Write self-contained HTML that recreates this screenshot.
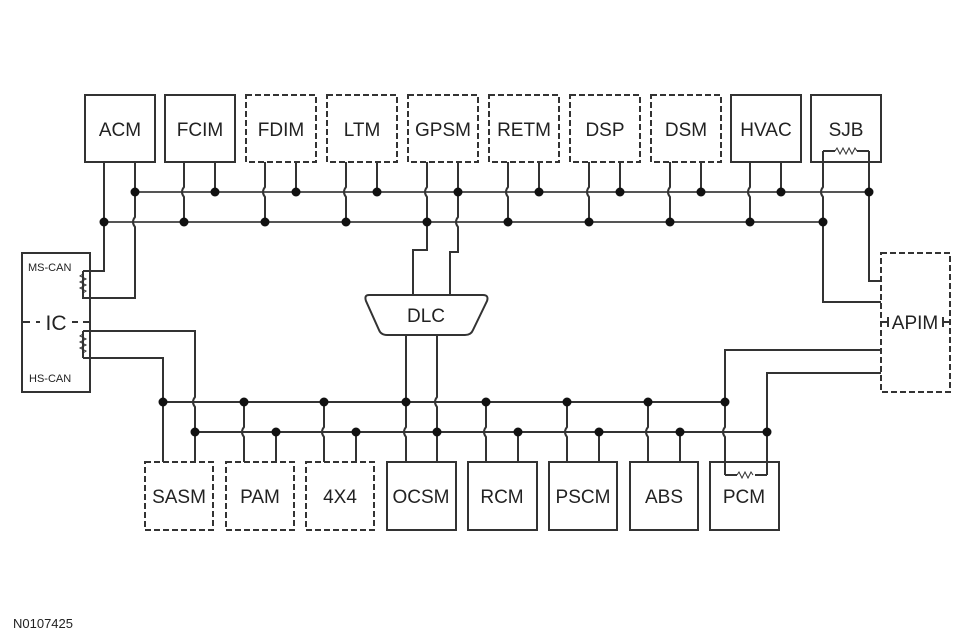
<!DOCTYPE html>
<html><head><meta charset="utf-8"><style>
html,body{margin:0;padding:0;background:#fff;width:975px;height:639px;overflow:hidden}
svg{display:block}
text{font-family:"Liberation Sans",Arial,sans-serif;fill:#222}
</style></head><body>
<svg width="975" height="639" viewBox="0 0 975 639" xmlns="http://www.w3.org/2000/svg">
<g fill="none" stroke="#333" stroke-width="2">
<rect x="85" y="95" width="70" height="67"/>
<rect x="165" y="95" width="70" height="67"/>
<rect x="246" y="95" width="70" height="67" stroke-dasharray="6,3"/>
<rect x="327" y="95" width="70" height="67" stroke-dasharray="6,3"/>
<rect x="408" y="95" width="70" height="67" stroke-dasharray="6,3"/>
<rect x="489" y="95" width="70" height="67" stroke-dasharray="6,3"/>
<rect x="570" y="95" width="70" height="67" stroke-dasharray="6,3"/>
<rect x="651" y="95" width="70" height="67" stroke-dasharray="6,3"/>
<rect x="731" y="95" width="70" height="67"/>
<rect x="811" y="95" width="70" height="67"/>
<rect x="145" y="462" width="68" height="68" stroke-dasharray="6,3"/>
<rect x="226" y="462" width="68" height="68" stroke-dasharray="6,3"/>
<rect x="306" y="462" width="68" height="68" stroke-dasharray="6,3"/>
<rect x="387" y="462" width="69" height="68"/>
<rect x="468" y="462" width="69" height="68"/>
<rect x="549" y="462" width="68" height="68"/>
<rect x="630" y="462" width="68" height="68"/>
<rect x="710" y="462" width="69" height="68"/>
<rect x="22" y="253" width="68" height="139"/>
<rect x="881" y="253" width="69" height="139" stroke-dasharray="6,3"/>
<path d="M22 322 H30 M36 322 H40 M72 322 H78 M83 322 H90" />
<path d="M881 322 H888 M943 322 H950 M888 317 V327 M943 317 V327"/>
<path d="M369 295 H483 Q489 295 487 301 L473 330 Q471 335 465 335 H387 Q381 335 379 330 L366 301 Q364 295 369 295 Z"/>
<path stroke="#555" d="M135 192 H869 M104 222 H823"/>
<path d="M163 402 H725 M195 432 H767"/>
<path d="M184 162 V187 q-4 5 0 10 V222 M215 162 V192
M265 162 V187 q-4 5 0 10 V222 M296 162 V192
M346 162 V187 q-4 5 0 10 V222 M377 162 V192
M508 162 V187 q-4 5 0 10 V222 M539 162 V192
M589 162 V187 q-4 5 0 10 V222 M620 162 V192
M670 162 V187 q-4 5 0 10 V222 M701 162 V192
M750 162 V187 q-4 5 0 10 V222 M781 162 V192"/>
<path d="M104 162 V271 H83 M135 162 V217 q-4 5 0 10 V298 H83 V271"/>
<path d="M83 274 l-3 2 l6 3 l-6 3 l6 3 l-6 3 l6 3 l-3 2" stroke-width="1"/>
<path d="M427 162 V187 q-4 5 0 10 V250 H413 V295 M458 162 V217 q-4 5 0 10 V252 H450 V295"/>
<path d="M823 151 V187 q-4 5 0 10 V302 H881 M869 151 V281 H881 M823 151 H835 M857 151 H869"/>
<path d="M835 151 l2 -3 l3 6 l3 -6 l3 6 l3 -6 l3 6 l3 -6 l2 3" stroke-width="1"/>
<path d="M83 331 H195 V397 q-4 5 0 10 V462 M83 358 H163 V462 M83 331 V358"/>
<path d="M83 334 l-3 2 l6 3 l-6 3 l6 3 l-6 3 l6 3 l-3 2" stroke-width="1"/>
<path d="M244 462 V437 q-4 -5 0 -10 V402 M276 462 V432
M324 462 V437 q-4 -5 0 -10 V402 M356 462 V432
M486 462 V437 q-4 -5 0 -10 V402 M518 462 V432
M567 462 V437 q-4 -5 0 -10 V402 M599 462 V432
M648 462 V437 q-4 -5 0 -10 V402 M680 462 V432"/>
<path d="M406 335 V427 q-4 5 0 10 V462 M437 335 V397 q-4 5 0 10 V462"/>
<path d="M725 475 V437 q-4 -5 0 -10 V350 H881 M767 475 V373 H881 M725 475 H737 M755 475 H767"/>
<path d="M737 475 l2 -3 l3 6 l3 -6 l3 6 l3 -6 l2 3" stroke-width="1"/>
</g>
<g fill="#111">
<circle cx="135" cy="192" r="4.5"/><circle cx="215" cy="192" r="4.5"/><circle cx="296" cy="192" r="4.5"/><circle cx="377" cy="192" r="4.5"/><circle cx="458" cy="192" r="4.5"/><circle cx="539" cy="192" r="4.5"/><circle cx="620" cy="192" r="4.5"/><circle cx="701" cy="192" r="4.5"/><circle cx="781" cy="192" r="4.5"/><circle cx="869" cy="192" r="4.5"/>
<circle cx="104" cy="222" r="4.5"/><circle cx="184" cy="222" r="4.5"/><circle cx="265" cy="222" r="4.5"/><circle cx="346" cy="222" r="4.5"/><circle cx="427" cy="222" r="4.5"/><circle cx="508" cy="222" r="4.5"/><circle cx="589" cy="222" r="4.5"/><circle cx="670" cy="222" r="4.5"/><circle cx="750" cy="222" r="4.5"/><circle cx="823" cy="222" r="4.5"/>
<circle cx="163" cy="402" r="4.5"/><circle cx="244" cy="402" r="4.5"/><circle cx="324" cy="402" r="4.5"/><circle cx="406" cy="402" r="4.5"/><circle cx="486" cy="402" r="4.5"/><circle cx="567" cy="402" r="4.5"/><circle cx="648" cy="402" r="4.5"/><circle cx="725" cy="402" r="4.5"/>
<circle cx="195" cy="432" r="4.5"/><circle cx="276" cy="432" r="4.5"/><circle cx="356" cy="432" r="4.5"/><circle cx="437" cy="432" r="4.5"/><circle cx="518" cy="432" r="4.5"/><circle cx="599" cy="432" r="4.5"/><circle cx="680" cy="432" r="4.5"/><circle cx="767" cy="432" r="4.5"/>
</g>
<g font-size="19" text-anchor="middle">
<text x="120" y="136">ACM</text><text x="200" y="136">FCIM</text><text x="281" y="136">FDIM</text><text x="362" y="136">LTM</text><text x="443" y="136">GPSM</text><text x="524" y="136">RETM</text><text x="605" y="136">DSP</text><text x="686" y="136">DSM</text><text x="766" y="136">HVAC</text><text x="846" y="136">SJB</text>
<text x="179" y="503">SASM</text><text x="260" y="503">PAM</text><text x="340" y="503">4X4</text><text x="421" y="503">OCSM</text><text x="502" y="503">RCM</text><text x="583" y="503">PSCM</text><text x="664" y="503">ABS</text><text x="744" y="503">PCM</text>
<text x="426" y="322">DLC</text>
<text x="915" y="329">APIM</text>
<text x="56" y="330" font-size="21">IC</text>
</g>
<text x="28" y="271" font-size="11">MS-CAN</text>
<text x="29" y="382" font-size="11">HS-CAN</text>
<text x="13" y="628" font-size="13">N0107425</text>
</svg>
</body></html>
